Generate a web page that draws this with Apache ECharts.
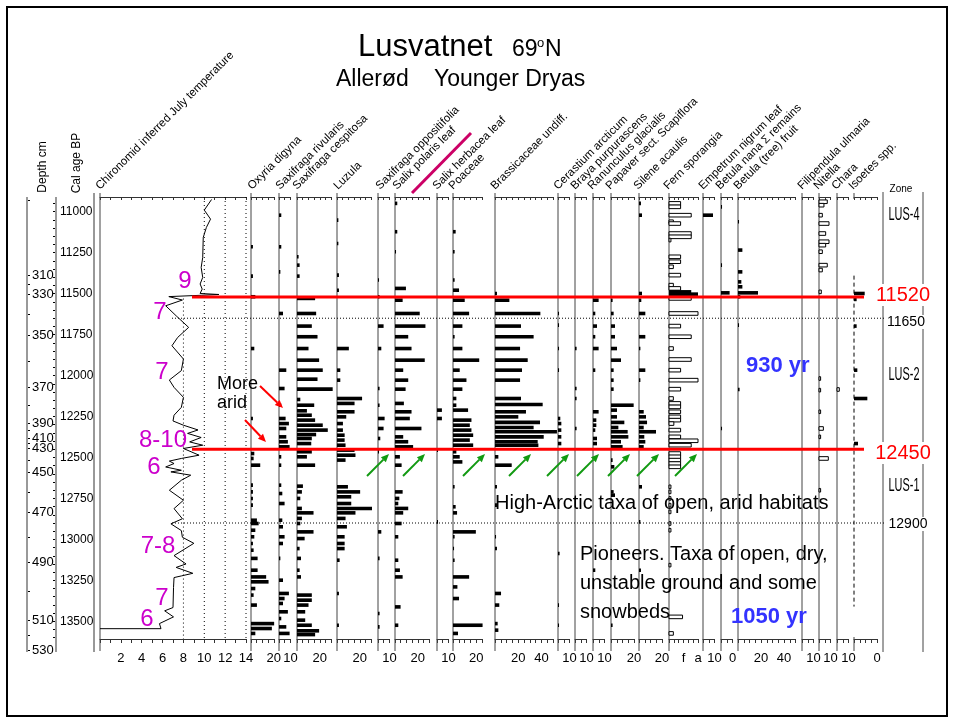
<!DOCTYPE html>
<html><head><meta charset="utf-8">
<script src="https://cdn.jsdelivr.net/npm/echarts@6/dist/echarts.min.js"></script>
<style>html,body{margin:0;padding:0;background:#fff}#c{width:954px;height:723px}</style>
</head><body><div id="c"></div><script>
// ---------------- DATA ----------------
// Chironomid inferred July temperature [T degC, cal age BP]
var tempCurve = [[10.7,10925],[10.0,10990],[10.6,11045],[10.2,11096],[9.9,11157],[9.85,11279],[9.7,11340],[9.85,11401],[9.6,11441],[9.8,11472],[9.6,11499],[11.4,11505],[9.7,11510],[6.6,11518],[7.9,11539],[6.3,11574],[7.3,11635],[8.5,11706],[7.45,11767],[6.9,11818],[8.0,11899],[7.8,11970],[6.65,12027],[7.1,12072],[8.0,12133],[7.8,12194],[7.1,12242],[7.0,12277],[8.0,12303],[9.4,12332],[8.4,12353],[9.7,12378],[8.6,12405],[9.85,12425],[8.0,12445],[9.5,12486],[7.8,12506],[6.65,12522],[7.1,12537],[6.3,12558],[7.8,12578],[6.8,12588],[8.7,12608],[7.8,12639],[6.65,12700],[8.0,12761],[7.1,12812],[7.9,12874],[6.8,12905],[7.8,12946],[7.9,12987],[9.0,13024],[7.1,13099],[8.25,13150],[7.3,13171],[8.9,13207],[7.8,13223],[7.1,13233],[7.05,13294],[7.0,13416],[6.2,13436],[7.05,13473],[5.7,13514],[5.85,13545],[0,13545]];
var tempRefLines = [[8,11530],[10,10910],[12,10910],[14,10910]];

// taxa: [cal age BP, value]
var oxyria = [[11214,1.7],[11393,1.7],[11519,3.8],[11835,2.9],[12262,1.7],[12476,2.9],[12506,2.3],[12547,8.1],[12669,1.7],[12710,1.7],[12750,1.7],[12791,1.7],[12883,5.2],[12903,6.7],[12944,3.8],[12984,2.9],[13025,1.7],[13066,2.3],[13116,5.8],[13188,5.8],[13229,13.3],[13259,15.4],[13300,3.8],[13340,2.3],[13401,5.2],[13514,20.3],[13544,18.3],[13574,3.8]];
var saxRivularis = [[11021,2.0],[11214,2.0],[11367,1.2],[11621,3.5],[11967,6.4],[12079,4.9],[12181,2.0],[12262,5.8],[12293,8.7],[12323,6.4],[12374,6.4],[12404,7.8],[12435,9.3],[12496,2.0],[12547,2.0],[12669,2.0],[12720,2.9],[12781,4.9],[12883,2.9],[12923,3.5],[12984,4.9],[13025,3.5],[13116,1.2],[13249,3.5],[13330,8.7],[13361,4.9],[13391,3.5],[13442,7.8],[13483,2.0],[13534,6.4],[13574,9.3]];
var saxCespitosa = [[11275,1.4],[11326,2.3],[11393,2.3],[11529,15.9],[11621,16.8],[11698,13.0],[11763,18.0],[11835,10.1],[11906,19.4],[11967,22.6],[12022,18.0],[12083,31.3],[12146,2.9],[12181,15.1],[12215,8.7],[12242,13.0],[12272,15.9],[12303,22.6],[12333,27.0],[12360,16.8],[12384,13.0],[12415,12.5],[12465,13.0],[12496,8.7],[12547,15.9],[12675,5.2],[12710,4.3],[12750,2.9],[12811,4.3],[12838,14.5],[12872,4.3],[12903,2.9],[12954,14.5],[12995,6.7],[13056,2.3],[13116,3.5],[13188,2.3],[13229,3.5],[13340,13.0],[13371,13.0],[13401,10.1],[13442,7.2],[13493,7.2],[13524,13.0],[13558,19.4],[13581,15.9]];
var luzula = [[11051,1.2],[11194,1.2],[11387,1.7],[11479,1.7],[11835,10.4],[11967,2.9],[12028,2.9],[12140,22.0],[12170,15.4],[12221,15.4],[12252,8.1],[12293,5.2],[12333,5.2],[12364,6.7],[12394,6.7],[12425,7.5],[12455,15.4],[12486,16.2],[12516,7.5],[12679,9.6],[12710,20.3],[12740,12.5],[12781,12.5],[12811,30.7],[12838,16.2],[12872,7.5],[12923,8.7],[12984,6.7],[13025,6.7],[13056,6.7],[13127,2.3],[13330,1.7],[13524,1.7]];
var saxOppositifolia = [[11417,0.9],[11519,1.4],[11698,4.9],[11835,2.9],[12079,1.4],[12181,1.4],[12262,5.8],[12323,4.9],[12384,2.0],[12465,0.9],[12954,2.9],[13116,1.4],[13452,1.4],[13534,1.4]];
var salixPolaris = [[10949,2.0],[11122,2.0],[11244,0.9],[11468,9.6],[11540,6.7],[11621,21.7],[11698,26.7],[11763,11.6],[11835,14.5],[11906,26.1],[11967,7.2],[12028,11.6],[12083,9.3],[12170,7.8],[12221,14.5],[12262,13.0],[12323,23.2],[12374,7.2],[12404,11.6],[12435,15.9],[12496,4.3],[12547,5.8],[12710,6.7],[12750,3.8],[12781,2.9],[12811,11.6],[12838,7.2],[12903,5.8],[12984,2.9],[13127,2.9],[13188,4.3],[13229,6.7],[13412,4.9],[13524,2.9]];
var salixHerbacea = [[12211,4.3],[12262,4.3],[12455,0.9],[12893,0.9]];
var poaceae = [[11122,2.3],[11244,1.4],[11417,1.4],[11479,5.2],[11540,10.1],[11621,13.9],[11698,8.1],[11763,1.4],[11835,8.1],[11906,22.6],[11967,5.8],[12028,11.6],[12083,8.1],[12140,2.9],[12181,2.9],[12211,13.0],[12272,15.9],[12303,14.5],[12333,15.9],[12364,17.4],[12394,14.5],[12425,17.4],[12465,2.9],[12496,5.8],[12527,8.1],[12679,1.4],[12801,2.3],[12838,3.5],[12954,19.7],[12984,1.4],[13056,0.9],[13127,1.4],[13229,13.9],[13290,3.8],[13361,5.2],[13524,25.5],[13574,4.3]];
var brassicaceae = [[11499,1.7],[11540,12.4],[11621,39.1],[11698,22.4],[11763,33.3],[11835,21.6],[11906,28.2],[11967,23.3],[12028,21.6],[12140,22.4],[12177,41.1],[12221,26.7],[12252,20.1],[12286,38.8],[12317,33.3],[12343,53.4],[12374,42.0],[12404,36.8],[12425,37.4],[12496,2.9],[12547,14.4],[12679,1.7],[12791,1.7],[12984,0.9],[13056,1.7],[13330,5.2],[13401,3.7],[13514,2.3],[13554,2.9]];
var cerastium = [[11621,0.9],[11692,0.9],[11835,0.9],[11967,0.9],[12262,2.0],[12293,2.9],[12333,2.9],[12374,2.9],[12415,2.9],[13086,1.4],[13401,0.9],[13524,0.9]];
var braya = [[11835,1.4],[12079,1.4],[12140,1.4],[12323,1.4]];
var ranunculus = [[11540,4.9],[11621,2.0],[11698,3.5],[11763,2.0],[11835,4.9],[11967,2.0],[12221,4.9],[12272,2.9],[12303,2.9],[12333,2.0],[12384,3.5],[12415,3.5],[13188,2.0]];
var papaver = [[11540,1.4],[11621,2.3],[11698,3.5],[11763,3.5],[11835,5.2],[11906,8.7],[11967,2.3],[12028,2.3],[12083,2.3],[12181,19.7],[12211,5.2],[12252,5.2],[12286,11.6],[12317,6.4],[12343,14.5],[12374,15.1],[12404,8.7],[12435,10.1],[12516,1.4],[12557,2.9],[12710,2.3],[12730,3.5],[13524,1.4]];
var silene = [[10949,1.7],[11021,2.6],[11499,2.6],[11540,2.0],[11621,5.5],[11763,5.5],[11835,1.2],[11967,5.5],[12028,1.2],[12221,4.1],[12252,6.1],[12286,7.0],[12317,4.1],[12343,14.8],[12374,4.6],[12404,5.5],[12435,4.1],[12679,2.6],[12893,1.2],[13188,1.7]];
// fern sporangia: [age, value (0..3, f~1.5, a~3), filled]
var fernSporangia = [[10949,1.2,0],[10970,1.2,0],[11021,2.3,0],[11061,0.45,0],[11072,1.2,0],[11133,2.3,0],[11153,2.3,0],[11173,0.2,0],[11275,1.2,0],[11305,1.2,0],[11336,0.45,0],[11387,1.2,0],[11448,0.45,0],[11468,1.2,0],[11489,2.3,1],[11503,3.0,1],[11529,2.3,0],[11621,3.0,0],[11698,1.2,0],[11763,2.3,0],[11835,0.45,0],[11902,2.3,0],[11967,1.2,0],[12028,3.0,0],[12083,1.2,0],[12140,0.45,0],[12170,1.2,0],[12191,1.2,0],[12221,1.2,0],[12252,1.2,0],[12272,1.2,0],[12293,0.5,0],[12333,1.2,0],[12374,1.2,0],[12398,3.0,0],[12425,2.3,0],[12476,1.2,0],[12496,1.2,0],[12516,1.2,0],[12537,1.2,0],[12557,1.2,0],[12679,0.2,0],[12710,0.2,0],[12750,0.2,0],[12791,0.2,0],[12832,0.2,0],[12903,0.2,0],[12944,0.2,0],[13157,0.2,0],[13473,1.4,0],[13574,0.45,0]];
var empetrum = [[11021,8.7]];
var betulaNana = [[10970,0.9],[11326,0.9],[11495,7.5],[12323,0.9]];
var betulaTree = [[11061,0.9],[11234,3.8],[11367,3.8],[11428,2.9],[11458,3.8],[11495,17.4],[11519,2.0],[11692,0.9],[12085,1.4]];
var filipendula = [];
var nitella = [[10939,7.2],[10960,4.3],[11021,2.9],[11072,8.7],[11133,5.8],[11183,8.7],[11204,5.8],[11244,2.9],[11326,7.2],[11356,2.9],[11489,2.0],[12018,1.4],[12089,1.4],[12221,1.4],[12323,3.8],[12374,1.4],[12506,8.1],[12700,1.4]];
var chara = [[12085,2.0]];
var isoetes = [[11499,9.3],[11535,2.3],[11698,2.3],[11967,2.9],[12140,11.6],[12415,3.5]];
var isoetesDashed = [[0,11390],[0,13410]];

// axes
var calAgeTicks = [11000,11250,11500,11750,12000,12250,12500,12750,13000,13250,13500];
var depthLabels = ['310','330','350','370','390','410','430','450','470','490','510','530'];
var depthAges   = [11386,11502,11753,12070,12290,12382,12443,12589,12833,13139,13493,13676];
var zoneBoundaries = [11520,12450];
var subZoneBoundaries = [11650,12900];
var zones = ['LUS-4','LUS-2','LUS-1'];

// ---------------- LAYOUT ----------------
var AGE_MIN = 10910, AGE_MAX = 13608, TOP = 197, H = 442;
var F = "'Liberation Sans', Arial, sans-serif";
var FN = "'Liberation Sans Narrow', 'Liberation Sans', Arial, sans-serif";
var BAR_YEARS = 22;

var taxa = [
 {n:'Oxyria digyna', d:oxyria, l:251, w:22.8, m:20, lab:{20:'20'}, tl:252},
 {n:'Saxifraga rivularis', d:saxRivularis, l:279, w:11.4, m:10, lab:{10:'10'}, tl:280},
 {n:'Saxifraga cespitosa', d:saxCespitosa, l:297, w:34.2, m:30, lab:{20:'20'}, tl:297},
 {n:'Luzula', d:luzula, l:337, w:34.2, m:30, lab:{20:'20'}, tl:338},
 {n:'Saxifraga oppositifolia', d:saxOppositifolia, l:378, w:11.4, m:10, lab:{10:'10'}, tl:380},
 {n:'Salix polaris leaf', d:salixPolaris, l:395, w:34.2, m:30, lab:{20:'20'}, tl:397},
 {n:'Salix herbacea leaf', d:salixHerbacea, l:437, w:11.4, m:10, lab:{10:'10'}, tl:437},
 {n:'Poaceae', d:poaceae, l:453, w:29, m:25, lab:{20:'20'}, tl:453},
 {n:'Brassicaceae undiff.', d:brassicaceae, l:495, w:58, m:50, lab:{20:'20',40:'40'}, tl:495},
 {n:'Cerastium arcticum', d:cerastium, l:558, w:11.5, m:10, lab:{10:'10'}, tl:558},
 {n:'Braya purpurascens', d:braya, l:575, w:11.5, m:10, lab:{10:'10'}, tl:575},
 {n:'Ranunculus glacialis', d:ranunculus, l:593, w:11.5, m:10, lab:{10:'10'}, tl:592},
 {n:'Papaver sect. Scapiflora', d:papaver, l:611, w:23, m:20, lab:{20:'20'}, tl:610},
 {n:'Silene acaulis', d:silene, l:639, w:23, m:20, lab:{20:'20'}, tl:638},
 {n:'Fern sporangia', d:fernSporangia, l:669, w:29, m:3, tick:0.5, lab:{1.5:'f',3:'a'}, tl:668, open:true},
 {n:'Empetrum nigrum leaf', d:empetrum, l:703, w:11.5, m:10, lab:{10:'10'}, tl:703},
 {n:'Betula nana \u03A3 remains', d:betulaNana, l:721, w:11.5, m:10, lab:{10:'0'}, tl:720},
 {n:'Betula (tree) fruit', d:betulaTree, l:738, w:57.5, m:50, lab:{20:'20',40:'40'}, tl:738},
 {n:'Filipendula ulmaria', d:filipendula, l:802, w:11.5, m:10, lab:{10:'10'}, tl:802},
 {n:'Nitella', d:nitella, l:819, w:11.5, m:10, lab:{10:'10'}, tl:818, open:true},
 {n:'Chara', d:chara, l:837, w:11.5, m:10, lab:{10:'10'}, tl:836, open:true},
 {n:'Isoetes spp.', d:isoetes, l:854, w:23, m:20, lab:{20:'0'}, tl:853, noLine:true}
];

var grids=[], xAxes=[], yAxes=[], series=[], graphics=[];
function lineEl(x1,y1,x2,y2,color,w,dash,z){
  return {type:'line', z:z||1, silent:true, shape:{x1:x1,y1:y1,x2:x2,y2:y2}, style:{stroke:color,lineWidth:w||1,lineDash:dash||null}};
}
function textEl(txt,x,y,o){
  o=o||{};
  var st={text:txt, fill:o.color||'#000', fontSize:o.size||12, fontFamily:o.family||F, fontWeight:o.weight||'normal',
    textAlign:o.align||'left', align:o.align||'left', textVerticalAlign:o.valign||'middle', verticalAlign:o.valign||'middle'};
  if(o.bg){st.backgroundColor=o.bg; st.padding=o.pad||[1,2];}
  return {type:'text', x:x, y:y, z:o.z||100, rotation:o.rot||0, scaleX:o.sx||1, scaleY:o.sy||1, silent:true, style:st};
}
function arrow(x1,y1,x2,y2,color){
  var a=Math.atan2(y2-y1,x2-x1), L=8, W=3.5;
  var bx=x2-L*Math.cos(a), by=y2-L*Math.sin(a), px=-Math.sin(a)*W, py=Math.cos(a)*W;
  return [lineEl(x1,y1,bx,by,color,2,null,90),
    {type:'polygon', z:90, silent:true, shape:{points:[[x2,y2],[bx+px,by+py],[bx-px,by-py]]}, style:{fill:color}}];
}
function addPanel(left,width,max,tick,fmt){
  var g=grids.length;
  grids.push({left:left, top:TOP, width:width, height:H, outerBoundsMode:'none', containLabel:false});
  var axLine={show:true, lineStyle:{color:'#333', width:1}};
  xAxes.push({gridIndex:g, type:'value', min:0, max:max, interval:tick, position:'bottom',
    axisLine:axLine, axisTick:{show:true, length:4, lineStyle:{color:'#333'}}, splitLine:{show:false},
    axisLabel:{show:true, formatter:fmt, fontSize:13, fontFamily:FN, color:'#000', margin:13, hideOverlap:false, showMinLabel:true, showMaxLabel:true}});
  xAxes.push({gridIndex:g, type:'value', min:0, max:max, interval:tick, position:'top',
    axisLine:axLine, axisTick:{show:true, inside:true, length:3, lineStyle:{color:'#333'}}, splitLine:{show:false}, axisLabel:{show:false}});
  yAxes.push({gridIndex:g, type:'value', min:AGE_MIN, max:AGE_MAX, inverse:true, show:false});
  return g;
}
function barRender(open){
  return function(params, api){
    var v=api.value(0), a=api.value(1), filled=api.value(2);
    var p0=api.coord([0,a]), p1=api.coord([v,a]);
    var h=api.size([0,BAR_YEARS])[1];
    var isOpen = open && !(filled===1);
    return {type:'rect', shape:{x:p0[0], y:p0[1]-h/2, width:Math.max(p1[0]-p0[0],1), height:h},
      style: isOpen ? {fill:'#fff', stroke:'#000', lineWidth:1} : {fill:'#000'}};
  };
}

// chironomid panel
var gC = addPanel(100,146,14,1,function(v){return (v>0 && v%2===0)?String(v):'';});
series.push({type:'line', xAxisIndex:2*gC, yAxisIndex:gC, data:tempCurve, showSymbol:false, symbol:'none',
  lineStyle:{color:'#000', width:1}, z:3, animation:false, silent:true});
tempRefLines.forEach(function(r){
  series.push({type:'line', xAxisIndex:2*gC, yAxisIndex:gC, data:[[r[0],r[1]],[r[0],AGE_MAX]], showSymbol:false, symbol:'none',
    lineStyle:{color:'#000', width:1, type:[1,3]}, animation:false, silent:true});
});
graphics.push(lineEl(100,193,100,651,'#444',1));
graphics.push(textEl('Chironomid inferred July temperature',102,192,{rot:Math.PI/4, valign:'bottom', size:11.5}));

// taxa panels
taxa.forEach(function(t){
  var lab=t.lab;
  var g=addPanel(t.l,t.w,t.m,t.tick||5,function(v){var k=Math.round(v*10)/10; return lab[k]!==undefined?lab[k]:'';});
  series.push({type:'custom', xAxisIndex:2*g, yAxisIndex:g, renderItem:barRender(!!t.open),
    data:t.d.map(function(d){return [d[1],d[0],d.length>2?d[2]:0];}), animation:false, silent:true, z:2});
  if(!t.noLine) graphics.push(lineEl(t.l,193,t.l,651,'#444',1));
  graphics.push(textEl(t.n,t.tl+2,192,{rot:Math.PI/4, valign:'bottom', size:11.5}));
  if(t.noLine){
    series.push({type:'line', xAxisIndex:2*g, yAxisIndex:g, data:isoetesDashed, showSymbol:false, symbol:'none',
      lineStyle:{color:'#000', width:1, type:[4,3]}, animation:false, silent:true});
    graphics.push(lineEl(t.l,193,t.l,199,'#444',1));
    graphics.push(lineEl(t.l,637,t.l,651,'#444',1));
  }
});

// overlay grid (pixel x, age y) for zone boundary lines
var gO=grids.length;
grids.push({left:0, top:TOP, width:954, height:H, outerBoundsMode:'none'});
xAxes.push({gridIndex:gO, type:'value', min:0, max:954, show:false});
xAxes.push({gridIndex:gO, type:'value', min:0, max:954, show:false});
yAxes.push({gridIndex:gO, type:'value', min:AGE_MIN, max:AGE_MAX, inverse:true, show:false});
zoneBoundaries.forEach(function(a){
  series.push({type:'line', xAxisIndex:2*gO, yAxisIndex:gO, data:[[192,a],[864,a]], showSymbol:false, symbol:'none',
    lineStyle:{color:'#ff0000', width:3}, z:5, animation:false, silent:true});
});
subZoneBoundaries.forEach(function(a){
  series.push({type:'line', xAxisIndex:2*gO, yAxisIndex:gO, data:[[172,a],[884,a]], showSymbol:false, symbol:'none',
    lineStyle:{color:'#000', width:1, type:[1,2]}, z:4, animation:false, silent:true});
});

// depth axis grid
var depthTicks=[10928];
for(var i=0;i<depthAges.length;i++){
  if(i>0) depthTicks.push((depthAges[i-1]+depthAges[i])/2);
  depthTicks.push(depthAges[i]);
}
var gD=grids.length, DEPTH_H=455;
grids.push({left:27, top:TOP, width:20, height:DEPTH_H, outerBoundsMode:'none'});
xAxes.push({gridIndex:gD, type:'value', min:0, max:1, show:false});
xAxes.push({gridIndex:gD, type:'value', min:0, max:1, show:false});
yAxes.push({gridIndex:gD, type:'value', min:AGE_MIN, max:AGE_MIN+(AGE_MAX-AGE_MIN)*DEPTH_H/H, inverse:true, position:'left',
  axisLine:{show:false}, splitLine:{show:false},
  axisTick:{show:true, inside:true, length:3, customValues:depthTicks, lineStyle:{color:'#000'}},
  axisLabel:{show:true, inside:true, margin:5, customValues:depthAges, fontSize:13, fontFamily:FN, color:'#000',
    formatter:function(v){for(var k=0;k<depthAges.length;k++){if(Math.abs(depthAges[k]-v)<1)return depthLabels[k];}return '';}}});

// cal age axis grid
var calMinor=[]; for(var a=10950;a<=13600;a+=50) calMinor.push(a);
var gA=grids.length;
grids.push({left:56, top:TOP, width:38, height:H, outerBoundsMode:'none'});
xAxes.push({gridIndex:gA, type:'value', min:0, max:1, show:false});
xAxes.push({gridIndex:gA, type:'value', min:0, max:1, show:false});
yAxes.push({gridIndex:gA, type:'value', min:AGE_MIN, max:AGE_MAX, inverse:true, position:'left',
  axisLine:{show:false}, splitLine:{show:false},
  axisTick:{show:true, inside:false, length:3, customValues:calMinor, lineStyle:{color:'#000'}},
  axisLabel:{show:true, inside:true, margin:4, customValues:calAgeTicks, fontSize:12, fontFamily:FN, color:'#000',
    formatter:function(v){return String(v);}}});
yAxes.push({gridIndex:gA, type:'value', min:AGE_MIN, max:AGE_MAX, inverse:true, position:'right',
  axisLine:{show:false}, splitLine:{show:false},
  axisTick:{show:true, inside:true, length:3, customValues:calMinor, lineStyle:{color:'#000'}},
  axisLabel:{show:false}});
graphics.push(lineEl(27,197,27,652,'#999',2));
graphics.push(lineEl(56,197,56,652,'#999',2));
graphics.push(lineEl(94,193,94,652,'#333',1));

// zone column
graphics.push(lineEl(883,192,883,652,'#444',1));
graphics.push(lineEl(923,192,923,652,'#444',1));
graphics.push(textEl('Zone',901,189,{align:'center', size:10}));
graphics.push(textEl(zones[0],904,215,{align:'center', size:14, sx:0.78, sy:1.3}));
graphics.push(textEl(zones[1],904,375,{align:'center', size:14, sx:0.78, sy:1.3}));
graphics.push(textEl(zones[2],904,486,{align:'center', size:14, sx:0.78, sy:1.3}));
graphics.push(textEl(String(zoneBoundaries[0]),903,295,{align:'center', size:20, color:'#ff0000', bg:'#fff'}));
graphics.push(textEl(String(zoneBoundaries[1]),903,453,{align:'center', size:20, color:'#ff0000', bg:'#fff'}));
graphics.push(textEl(String(subZoneBoundaries[0]),906,322,{align:'center', size:14, bg:'#fff', pad:[0,1]}));
graphics.push(textEl(String(subZoneBoundaries[1]),908,524,{align:'center', size:14, bg:'#fff', pad:[0,1]}));

// left headers
graphics.push(textEl('Depth cm',43,167,{align:'center', rot:Math.PI/2, size:12}));
graphics.push(textEl('Cal age BP',77,163,{align:'center', rot:Math.PI/2, size:12}));

// title
graphics.push(textEl('Lusvatnet',358,47,{size:31}));
graphics.push(textEl('69',512,50,{size:23}));
graphics.push(textEl('o',537,43,{size:13}));
graphics.push(textEl('N',545,50,{size:23}));
graphics.push(textEl('Aller\u00f8d',336,80,{size:23}));
graphics.push(textEl('Younger Dryas',434,80,{size:23}));
graphics.push(lineEl(412,193,471,133,'#cc0066',3,null,50));

// magenta temperature labels
var MAG='#cc00cc';
[['9',185,281],['7',160,312],['7',162,372],['8-10',163,440],['6',154,467],['7-8',158,546],['7',162,598],['6',147,619]].forEach(function(t){
  graphics.push(textEl(t[0],t[1],t[2],{align:'center', size:24, color:MAG}));
});
graphics.push(textEl('More',217,384,{size:18}));
graphics.push(textEl('arid',217,403,{size:18}));
graphics = graphics.concat(arrow(260,386,283,408,'#ff0000'), arrow(245,420,266,442,'#ff0000'));
[367,403,463,509,547,577,608,637,675].forEach(function(x){ graphics = graphics.concat(arrow(x,476,x+22,454,'#119911')); });

// annotations
graphics.push(textEl('High-Arctic taxa of open, arid habitats',495,503,{size:20}));
graphics.push(textEl('Pioneers. Taxa of open, dry,',580,554,{size:20}));
graphics.push(textEl('unstable ground and some',580,583,{size:20}));
graphics.push(textEl('snowbeds',580,612,{size:20}));
graphics.push(textEl('930 yr',746,366,{size:22, weight:'bold', color:'#3333ff'}));
graphics.push(textEl('1050 yr',731,617,{size:22, weight:'bold', color:'#3333ff'}));

// frame
graphics.push({type:'rect', z:100, silent:true, shape:{x:7,y:7,width:940,height:709}, style:{fill:'none', stroke:'#000', lineWidth:2}});

var chart = echarts.init(document.getElementById('c'), null, {renderer:'canvas'});
chart.setOption({animation:false, backgroundColor:'#fff', grid:grids, xAxis:xAxes, yAxis:yAxes, series:series, graphic:{elements:graphics}});
</script></body></html>
